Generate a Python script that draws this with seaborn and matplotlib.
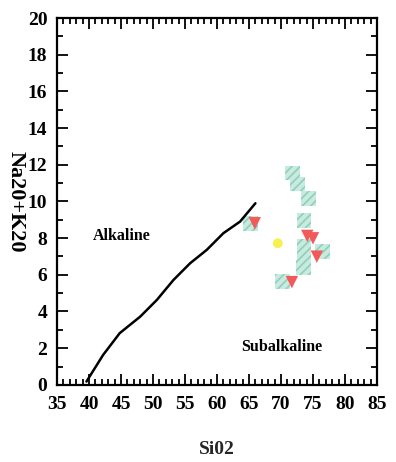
import seaborn as sns
import pandas as pd
import matplotlib.pyplot as plt
from matplotlib.ticker import MultipleLocator

# boundary line alkaline / subalkaline
line_si = [39.6, 42.2, 44.8, 48.0, 50.6, 53.2, 55.8, 58.4, 61.0, 63.6, 66.0]
line_alk = [0.18, 1.63, 2.82, 3.72, 4.63, 5.72, 6.63, 7.36, 8.27, 8.9, 9.9]

# samples
sq_si = [71.8, 72.6, 74.3, 73.6, 73.6, 73.6, 76.5, 73.5, 70.2, 65.2]
sq_alk = [11.54, 10.95, 10.17, 8.95, 7.57, 7.18, 7.27, 6.41, 5.63, 8.81]
tri_si = [65.9, 74.1, 75.0, 75.6, 71.7]
tri_alk = [8.81, 8.12, 7.99, 6.99, 5.6]
dot_si = [69.5]
dot_alk = [7.72]

sns.set_style('ticks')
plt.rcParams['font.family'] = ['Liberation Serif', 'DejaVu Serif']
plt.rcParams['font.weight'] = 'bold'
plt.rcParams['text.color'] = 'black'
plt.rcParams['xtick.color'] = 'black'
plt.rcParams['ytick.color'] = 'black'
plt.rcParams['axes.edgecolor'] = 'black'
plt.rcParams['hatch.color'] = '#8fd0bc'
plt.rcParams['hatch.linewidth'] = 1.2

fig = plt.figure(figsize=(3.96, 4.62), dpi=100)
ax = fig.add_axes([0.144, 0.167, 0.808, 0.794])

sns.lineplot(x=line_si, y=line_alk, sort=False, color='black', lw=1.8, ax=ax)
sns.scatterplot(x=sq_si, y=sq_alk, marker='s', s=110, color='#c8eadf',
                edgecolor='none', hatch='////', ax=ax)
sns.scatterplot(x=tri_si, y=tri_alk, marker='v', s=80, color='#f25a5a',
                edgecolor='none', ax=ax)
sns.scatterplot(x=dot_si, y=dot_alk, marker='o', s=50, color='#f6f050',
                edgecolor='none', ax=ax)

ax.text(45.1, 8.1, 'Alkaline', fontsize=11.5, fontweight='bold', ha='center', va='center')
ax.text(70.1, 2.07, 'Subalkaline', fontsize=11.5, fontweight='bold', ha='center', va='center')

ax.set_xlim(35, 85)
ax.set_ylim(0, 20)
ax.xaxis.set_major_locator(MultipleLocator(5))
ax.xaxis.set_minor_locator(MultipleLocator(1))
ax.yaxis.set_major_locator(MultipleLocator(2))
ax.yaxis.set_minor_locator(MultipleLocator(1))
ax.tick_params(which='both', direction='in', top=True, right=True, width=1.3,
               labelsize=14, pad=8)
ax.tick_params(which='major', length=8)
ax.tick_params(which='minor', length=4)
ax.tick_params(axis='y', pad=7)
for s in ax.spines.values():
    s.set_linewidth(1.6)

ax.set_xlabel('Si02', fontsize=14, fontweight='bold', labelpad=20)
fig.text(16 / 396, 0.563, 'Na20+K20', fontsize=16, fontweight='bold',
         rotation=270, ha='center', va='center')

fig.savefig('out.png', dpi=100)
